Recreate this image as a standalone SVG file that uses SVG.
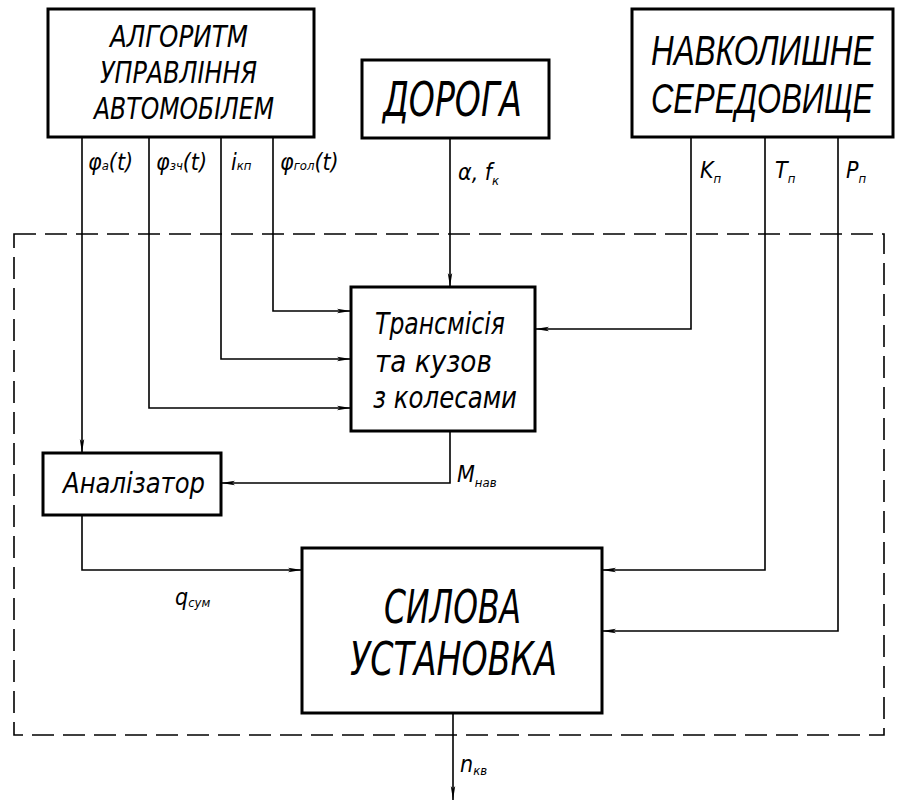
<svg xmlns="http://www.w3.org/2000/svg" width="903" height="803" viewBox="0 0 903 803">
<defs>
<style>
.box{fill:#fff;stroke:#000;stroke-width:3}
.ln{fill:none;stroke:#000;stroke-width:1.6}
.dash{fill:none;stroke:#000;stroke-width:1.6;stroke-dasharray:22 9}
text{font-family:"DejaVu Sans","Liberation Sans",sans-serif;font-style:italic;fill:#000}
.env{font-family:"Liberation Sans",sans-serif;font-size:43px}
.lab{font-family:"DejaVu Sans Condensed","Liberation Sans Narrow","Liberation Sans",sans-serif;font-size:23px}
.sub{font-size:13px}
</style>
<marker id="ar" viewBox="0 0 14 6" refX="14" refY="3" markerWidth="14" markerHeight="6" markerUnits="userSpaceOnUse" orient="auto">
<path d="M0,0.8 L14,3 L0,5.2 L3,3 z" fill="#000"/>
</marker>
</defs>
<rect class="dash" x="14" y="234" width="870" height="501"/>
<g id="connectors">
<path class="ln" d="M82,137 V453" marker-end="url(#ar)"/>
<path class="ln" d="M149,137 V408 H351" marker-end="url(#ar)"/>
<path class="ln" d="M221,137 V359 H351" marker-end="url(#ar)"/>
<path class="ln" d="M273,137 V311 H351" marker-end="url(#ar)"/>
<path class="ln" d="M450,138 V287" marker-end="url(#ar)"/>
<path class="ln" d="M691,137 V329 H535" marker-end="url(#ar)"/>
<path class="ln" d="M765,137 V570 H602" marker-end="url(#ar)"/>
<path class="ln" d="M838,137 V631 H602" marker-end="url(#ar)"/>
<path class="ln" d="M450,431 V483 H221" marker-end="url(#ar)"/>
<path class="ln" d="M82,515 V570 H302" marker-end="url(#ar)"/>
<path class="ln" d="M453,713 V800" marker-end="url(#ar)"/>
<text class="lab" x="88" y="170">φ<tspan class="sub">a</tspan>(t)</text>
<text class="lab" x="156" y="170">φ<tspan class="sub">зч</tspan>(t)</text>
<text class="lab" x="231" y="170" font-size="21">i<tspan class="sub">кп</tspan></text>
<text class="lab" x="280" y="170">φ<tspan class="sub">гол</tspan>(t)</text>
<text class="lab" x="458" y="180">α,  f<tspan class="sub" dy="5">к</tspan></text>
<text class="lab" x="700" y="178">K<tspan class="sub" dy="5">п</tspan></text>
<text class="lab" x="775" y="178">T<tspan class="sub" dy="5">п</tspan></text>
<text class="lab" x="846" y="178">P<tspan class="sub" dy="5">п</tspan></text>
<text class="lab" x="457" y="482" font-size="26">M<tspan class="sub" dy="5">нав</tspan></text>
<text class="lab" x="175" y="605">q<tspan class="sub" dy="2">сум</tspan></text>
<text class="lab" x="460" y="772" font-size="20">n<tspan class="sub" dy="3">кв</tspan></text>
</g>
<g id="algorithm">
<rect class="box" x="48" y="9" width="266" height="128"/>
<text x="110" y="47" font-size="31" textLength="138" lengthAdjust="spacingAndGlyphs">АЛГОРИТМ</text>
<text x="100" y="83" font-size="31" textLength="157" lengthAdjust="spacingAndGlyphs">УПРАВЛІННЯ</text>
<text x="94" y="119" font-size="31" textLength="180" lengthAdjust="spacingAndGlyphs">АВТОМОБІЛЕМ</text>
</g>
<g id="road">
<rect class="box" x="362" y="60" width="187" height="78"/>
<text x="383" y="116" font-size="48" textLength="139" lengthAdjust="spacingAndGlyphs">ДОРОГА</text>
</g>
<g id="environment">
<rect class="box" x="632" y="9" width="261" height="128"/>
<text class="env" transform="translate(651,65) scale(0.73,1)">НАВКОЛИШНЕ</text>
<text class="env" transform="translate(651,113) scale(0.72,1)">СЕРЕДОВИЩЕ</text>
</g>
<g id="transmission">
<rect class="box" x="351" y="287" width="184" height="144"/>
<text x="375" y="334" font-size="31" textLength="130" lengthAdjust="spacingAndGlyphs">Трансмісія</text>
<text x="375" y="372" font-size="31" textLength="117" lengthAdjust="spacingAndGlyphs">та кузов</text>
<text x="373" y="408" font-size="31" textLength="144" lengthAdjust="spacingAndGlyphs">з колесами</text>
</g>
<g id="analyzer">
<rect class="box" x="43" y="453" width="178" height="62"/>
<text x="63" y="493" font-size="28" textLength="142" lengthAdjust="spacingAndGlyphs">Аналізатор</text>
</g>
<g id="powerplant">
<rect class="box" x="302" y="548" width="300" height="165"/>
<text x="384" y="623" font-size="46" textLength="137" lengthAdjust="spacingAndGlyphs">СИЛОВА</text>
<text x="350" y="675" font-size="46" textLength="207" lengthAdjust="spacingAndGlyphs">УСТАНОВКА</text>
</g>
</svg>
